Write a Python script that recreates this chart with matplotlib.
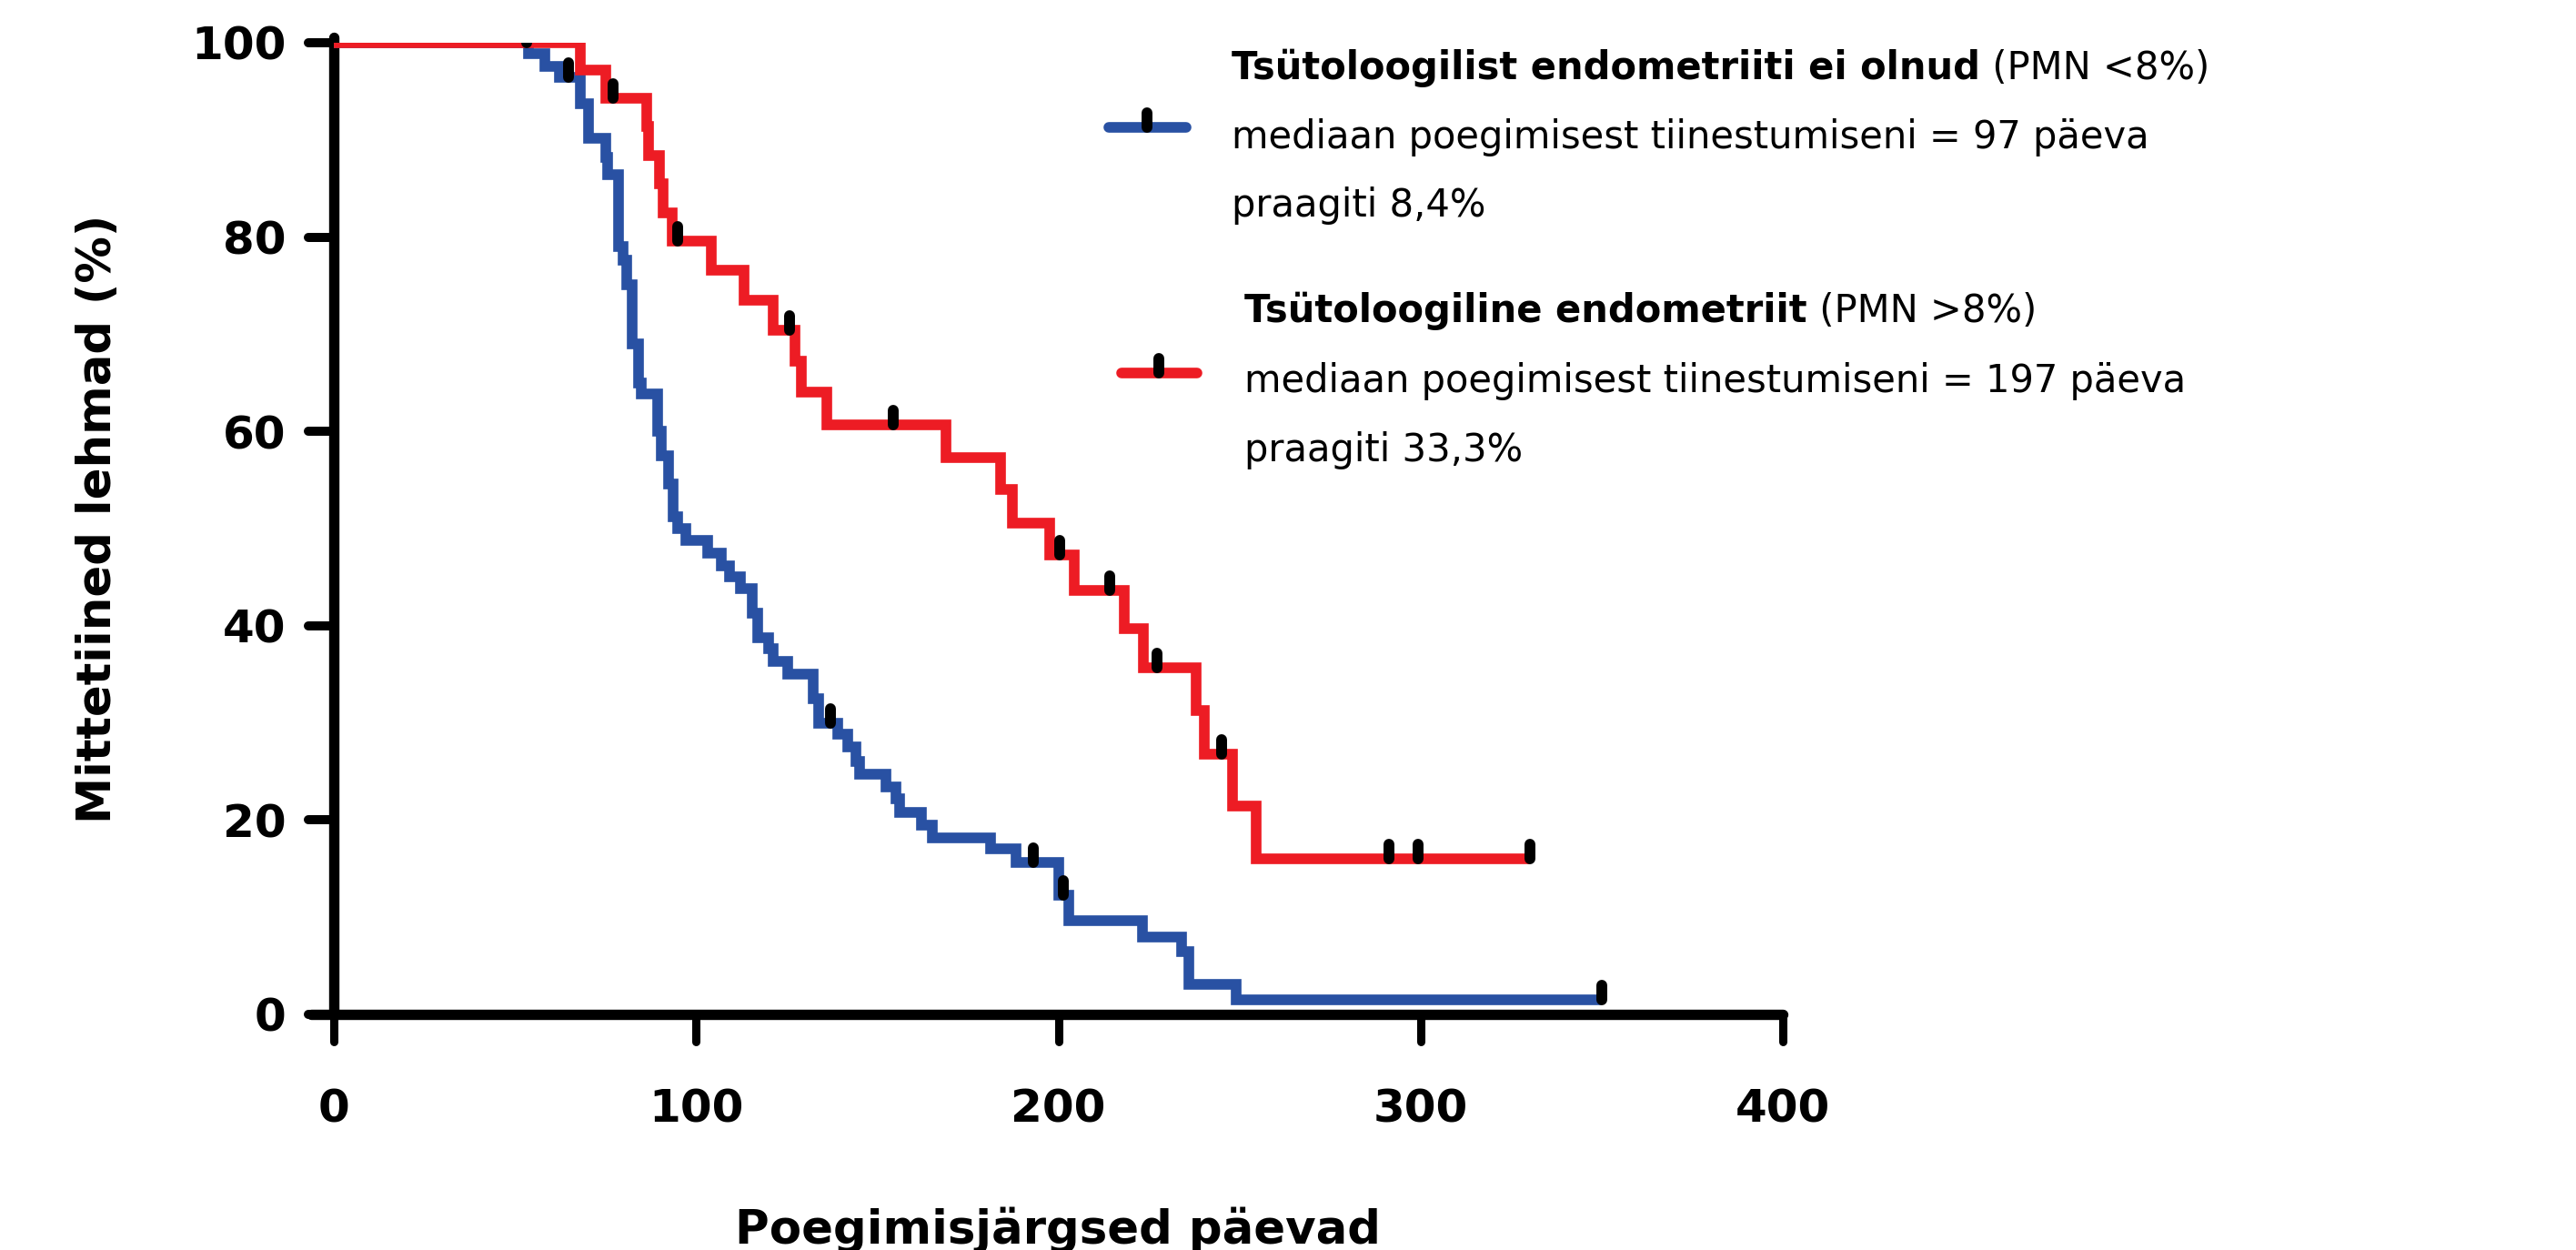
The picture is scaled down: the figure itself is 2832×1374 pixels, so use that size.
import matplotlib
matplotlib.use('Agg')
import matplotlib.pyplot as plt
from matplotlib.lines import Line2D
from matplotlib.markers import MarkerStyle, TICKLEFT, TICKDOWN
from matplotlib.path import Path

# ---------------- data ----------------
blue_t = [0, 53.8, 58.3, 62.2, 68.0, 70.3, 75.1, 75.6, 78.6, 79.9, 80.9, 82.3, 84.0, 84.9,
          89.3, 90.5, 92.4, 93.6, 95.0, 97.1, 103.1, 106.9, 109.2, 112.3, 115.4, 117.0,
          120.1, 121.3, 125.4, 132.4, 133.8, 139.2, 141.8, 144.1, 145.2, 152.3, 155.2,
          156.1, 162.3, 165.2, 181.2, 188.3, 200.0, 202.9, 223.3, 234.0, 236.0, 249.2, 350.1]
blue_s = [100, 98.9, 97.6, 96.4, 93.7, 90.2, 88.2, 86.4, 79.0, 77.6, 75.1, 69.0, 65.0, 63.9,
          60.0, 57.5, 54.6, 51.2, 50.0, 48.8, 47.5, 46.2, 45.0, 43.8, 41.3, 38.8,
          37.6, 36.3, 35.0, 32.5, 30.0, 28.8, 27.5, 26.0, 24.7, 23.4, 22.2,
          20.8, 19.5, 18.2, 17.0, 15.6, 12.3, 9.6, 8.0, 6.5, 3.1, 1.5, 1.5]
blue_cens_t = [53.2, 64.8, 137.0, 193.0, 201.4, 350.1]
blue_cens_s = [100, 96.4, 30.0, 15.6, 12.3, 1.5]

red_t = [0, 68.0, 75.0, 86.3, 87.0, 90.0, 91.0, 93.3, 104.2, 113.2, 121.2, 127.2, 129.0,
         136.2, 169.0, 184.0, 187.2, 197.5, 204.3, 218.2, 223.4, 238.1, 240.4, 248.1, 254.5, 330.1]
red_s = [100, 97.2, 94.3, 91.4, 88.4, 85.5, 82.5, 79.6, 76.6, 73.5, 70.4, 67.2, 64.0,
         60.7, 57.3, 54.0, 50.6, 47.3, 43.6, 39.7, 35.7, 31.3, 26.8, 21.4, 16.0, 16.0]
red_cens_t = [77.0, 95.0, 125.8, 154.5, 200.3, 214.1, 227.3, 245.1, 291.3, 299.2, 330.1]
red_cens_s = [94.3, 79.6, 70.4, 60.7, 47.3, 43.6, 35.7, 26.8, 16.0, 16.0, 16.0]

x_ticks = [0, 100, 200, 300, 400]
x_tick_labels = ['0', '100', '200', '300', '400']
y_ticks = [0, 20, 40, 60, 80, 100]
y_tick_labels = ['0', '20', '40', '60', '80', '100']

x_label = 'Poegimisjärgsed päevad'
y_label = 'Mittetiined lehmad (%)'

blue_title = 'Tsütoloogilist endometriiti ei olnud'
blue_title_extra = ' (PMN <8%)'
blue_line2 = 'mediaan poegimisest tiinestumiseni = 97 päeva'
blue_line3 = 'praagiti 8,4%'
red_title = 'Tsütoloogiline endometriit'
red_title_extra = ' (PMN >8%)'
red_line2 = 'mediaan poegimisest tiinestumiseni = 197 päeva'
red_line3 = 'praagiti 33,3%'

# ---------------- figure ----------------
W, H = 2832, 1374
fig = plt.figure(figsize=(W / 100, H / 100), dpi=100)


def fx(px):
    return px / W


def fy(py):
    return 1 - py / H


BLUE = '#2951A3'
RED = '#ED1C24'
LW = 8.4

ax = fig.add_axes([fx(367), fy(1115), (1960 - 367) / W, (1115 - 47) / H])
ax.set_xlim(0, 400)
ax.set_ylim(0, 100)
ax.patch.set_visible(False)

ax.step(blue_t, blue_s, where='post', color=BLUE, lw=LW,
        solid_joinstyle='miter', solid_capstyle='butt', zorder=3)
ax.step(red_t, red_s, where='post', color=RED, lw=LW,
        solid_joinstyle='miter', solid_capstyle='butt', zorder=4)

# censor mark: short vertical bar sitting on the line and extending upward
cens_path = Path([(0, 0), (0, 1)])
cm = MarkerStyle(cens_path, capstyle='round')
CMS = 23
CMEW = 8.6
ax.plot(blue_cens_t, blue_cens_s, ls='none', marker=cm, ms=CMS, mew=CMEW,
        color='black', zorder=5)
ax.plot(red_cens_t, red_cens_s, ls='none', marker=cm, ms=CMS, mew=CMEW,
        color='black', zorder=5)

for s in ['top', 'right']:
    ax.spines[s].set_visible(False)
for s in ['left', 'bottom']:
    ax.spines[s].set_linewidth(8.2)
    ax.spines[s].set_capstyle('round')
ax.spines['bottom'].set_bounds(-6.3, 400)
ax.spines['left'].set_bounds(0, 100.6)

ax.set_xticks(x_ticks)
ax.set_xticklabels(x_tick_labels)
ax.set_yticks(y_ticks)
ax.set_yticklabels(y_tick_labels)
ax.tick_params(axis='x', direction='out', length=21.6, width=6.5, pad=36, labelsize=36)
ax.tick_params(axis='y', direction='out', length=20, width=7.2, pad=18, labelsize=36)
for lab in ax.get_xticklabels() + ax.get_yticklabels():
    lab.set_fontweight('bold')
for t in ax.yaxis.get_major_ticks():
    t.tick1line.set_marker(MarkerStyle(TICKLEFT, capstyle='round'))
for t in ax.xaxis.get_major_ticks():
    t.tick1line.set_marker(MarkerStyle(TICKDOWN, capstyle='round'))

fig.text(fx(122), fy(570), y_label, rotation=90, rotation_mode='anchor',
         ha='center', va='baseline', fontsize=37, fontweight='bold')
fig.text(fx(1163), fy(1367), x_label, ha='center', va='baseline',
         fontsize=37, fontweight='bold')

# ---------------- legend ----------------
LFS = 30
fig.add_artist(Line2D([fx(1219), fx(1304)], [fy(140), fy(140)], transform=fig.transFigure,
                      color=BLUE, lw=LW, solid_capstyle='round'))
fig.add_artist(Line2D([fx(1261)], [fy(140)], transform=fig.transFigure, ls='none',
                      marker=cm, ms=CMS, mew=CMEW, color='black'))
fig.add_artist(Line2D([fx(1233), fx(1316)], [fy(410), fy(410)], transform=fig.transFigure,
                      color=RED, lw=LW, solid_capstyle='round'))
fig.add_artist(Line2D([fx(1274)], [fy(410)], transform=fig.transFigure, ls='none',
                      marker=cm, ms=CMS, mew=CMEW, color='black'))

t1 = fig.text(fx(1354), fy(87), blue_title, fontsize=LFS, fontweight='bold', va='baseline')
ax.annotate(blue_title_extra, xy=(1, 0), xycoords=t1, va='bottom', ha='left', fontsize=LFS)
fig.text(fx(1354), fy(163), blue_line2, fontsize=LFS, va='baseline')
fig.text(fx(1354), fy(238), blue_line3, fontsize=LFS, va='baseline')

t4 = fig.text(fx(1368), fy(354), red_title, fontsize=LFS, fontweight='bold', va='baseline')
ax.annotate(red_title_extra, xy=(1, 0), xycoords=t4, va='bottom', ha='left', fontsize=LFS)
fig.text(fx(1368), fy(431), red_line2, fontsize=LFS, va='baseline')
fig.text(fx(1368), fy(507), red_line3, fontsize=LFS, va='baseline')

fig.savefig('out.png', dpi=100)
